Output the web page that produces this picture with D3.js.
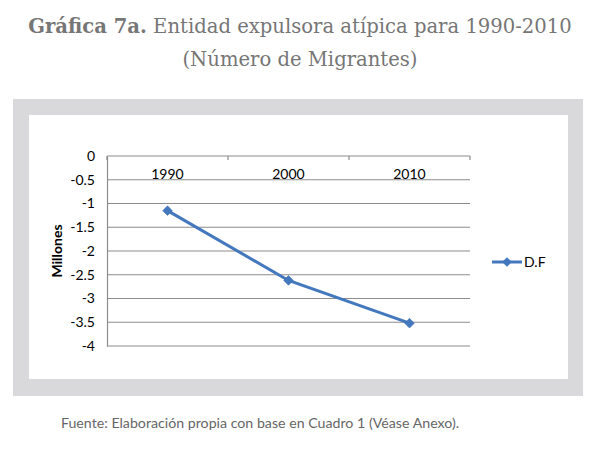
<!DOCTYPE html>
<html><head><meta charset="utf-8">
<script src="https://cdn.jsdelivr.net/npm/d3@7"></script>
<style>body{margin:0;background:#fff}</style>
</head><body>
<script>
const categories = ["1990", "2000", "2010"];
const values = [-1.15, -2.62, -3.52];
const yTicks = [0, -0.5, -1, -1.5, -2, -2.5, -3, -3.5, -4];
const seriesName = "D.F";

const W = 600, H = 465;
const svg = d3.select("body").append("svg").attr("width", W).attr("height", H);
const sans = "Lato, 'Noto Sans', sans-serif";

// title
const t1 = svg.append("text").attr("x", 300).attr("y", 33).attr("text-anchor", "middle")
  .attr("font-family", "DejaVu Serif").attr("font-size", 19.6).attr("fill", "#767676");
t1.append("tspan").attr("font-weight", "bold").text("Gráfica 7a.");
t1.append("tspan").text(" Entidad expulsora atípica para 1990-2010");
svg.append("text").attr("x", 300).attr("y", 66).attr("text-anchor", "middle")
  .attr("font-family", "DejaVu Serif").attr("font-size", 19.6).attr("fill", "#767676")
  .text("(Número de Migrantes)");

// frames
svg.append("rect").attr("x", 13).attr("y", 99).attr("width", 570).attr("height", 297).attr("fill", "#d9d9db");
svg.append("rect").attr("x", 29).attr("y", 115).attr("width", 539).attr("height", 264).attr("fill", "#fff");

const x = d3.scaleBand().domain(categories).range([107, 470]);
const y = d3.scaleLinear().domain([-4, 0]).range([346, 156]);

// gridlines
svg.append("g").selectAll("line").data(yTicks).join("line")
  .attr("x1", 107).attr("x2", 470).attr("y1", d => y(d)).attr("y2", d => y(d))
  .attr("stroke", "#8c8c8c").attr("stroke-width", 1.2);

// y axis
const yAxis = d3.axisLeft(y).tickValues(yTicks).tickSize(0).tickPadding(12)
  .tickFormat(d => String(d));
const gy = svg.append("g").attr("transform", "translate(107,0)").call(yAxis);
gy.select(".domain").attr("stroke", "#8c8c8c").attr("stroke-width", 1.2);
gy.selectAll("text").attr("font-family", sans).attr("font-size", 14).attr("fill", "#000");

// x axis at y=0 with ticks pointing down between categories
const gx = svg.append("g").attr("transform", `translate(0,${y(0)})`);
const bounds = categories.map(c => x(c)).concat([x.range()[1]]);
gx.selectAll("line.tk").data(bounds).join("line").attr("class", "tk")
  .attr("x1", d => d).attr("x2", d => d).attr("y1", 0).attr("y2", 4)
  .attr("stroke", "#8c8c8c").attr("stroke-width", 1.2);
gx.selectAll("text").data(categories).join("text")
  .attr("x", d => x(d) + x.bandwidth() / 2).attr("y", 23).attr("text-anchor", "middle")
  .attr("font-family", sans).attr("font-size", 14).text(d => d);

// axis title
svg.append("text").attr("transform", "translate(62,251) rotate(-90)").attr("text-anchor", "middle")
  .attr("font-family", sans).attr("font-weight", "bold").attr("font-size", 14)
  .text("Millones");

const blue = "#4478be";
const line = d3.line().x((d, i) => x(categories[i]) + x.bandwidth() / 2).y(d => y(d));
svg.append("path").datum(values).attr("d", line).attr("fill", "none").attr("stroke", blue).attr("stroke-width", 3);
const diamond = d3.symbol().type(d3.symbolDiamond2).size(60);
svg.selectAll("path.pt").data(values).join("path").attr("class", "pt")
  .attr("transform", (d, i) => `translate(${x(categories[i]) + x.bandwidth() / 2},${y(d)})`)
  .attr("d", diamond).attr("fill", blue).attr("stroke", "#3a6aaa").attr("stroke-width", 0.5);

// legend
svg.append("line").attr("x1", 492).attr("x2", 522).attr("y1", 262).attr("y2", 262).attr("stroke", blue).attr("stroke-width", 3);
svg.append("path").attr("transform", "translate(507,262)").attr("d", diamond).attr("fill", blue);
svg.append("text").attr("x", 524).attr("y", 267).attr("font-family", sans).attr("font-size", 14).text(seriesName);

// footer
svg.append("text").attr("x", 260).attr("y", 428).attr("text-anchor", "middle")
  .attr("font-family", sans).attr("font-size", 14.2).attr("fill", "#666")
  .text("Fuente: Elaboración propia con base en Cuadro 1 (Véase Anexo).");
</script>
</body></html>
